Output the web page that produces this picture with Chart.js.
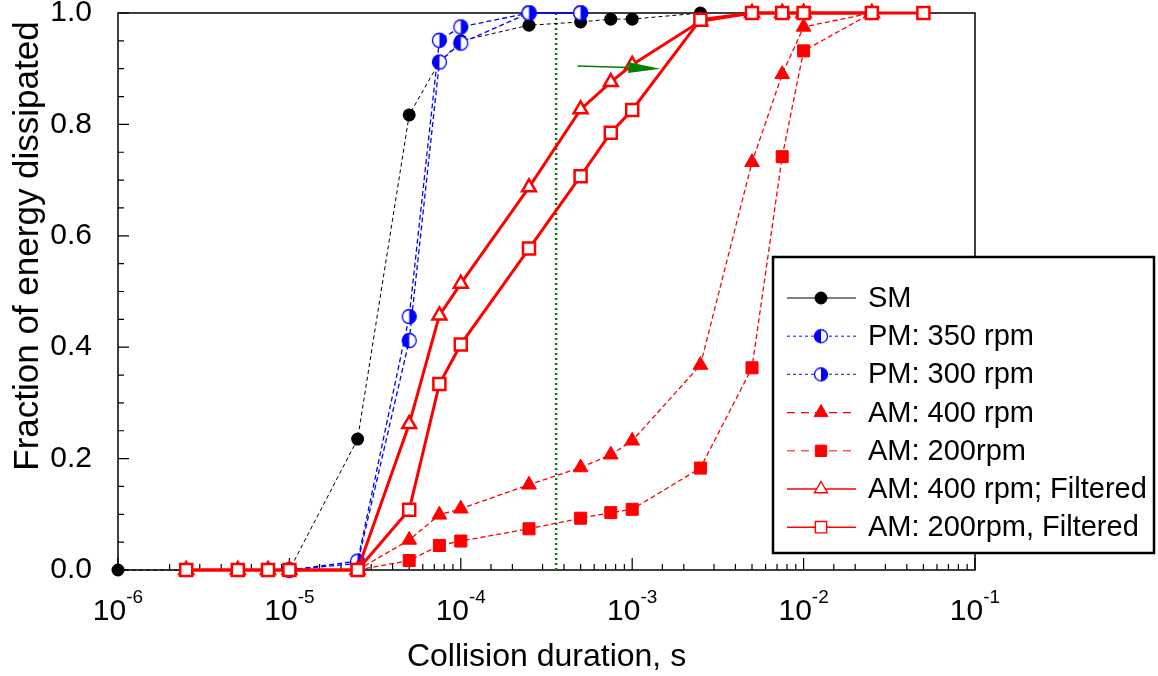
<!DOCTYPE html>
<html>
<head>
<meta charset="utf-8">
<title>Fraction of energy dissipated vs collision duration</title>
<script src="https://cdn.jsdelivr.net/npm/chart.js@4.4.1/dist/chart.umd.min.js"></script>
<style>
  html, body { margin: 0; padding: 0; background: #fff; }
  #wrap { width: 1158px; height: 676px; }
</style>
</head>
<body>
<div id="wrap"><canvas id="chart" width="1158" height="676"></canvas></div>
<script>
const FONT = '"Liberation Sans", Arial, sans-serif';
const BLUE = "#0000ff";
const RED = "#ff0000";
const GREEN = "#008000";

// collision duration (s) / fraction of energy dissipated
const T_SM = [1e-6, 1e-5, 2.5e-5, 5e-5, 7.5e-5, 1e-4, 2.5e-4, 5e-4, 7.5e-4, 1e-3, 2.5e-3];
const E_SM = [0, 0, 0.235, 0.817, 0.912, 0.95, 0.978, 0.984, 0.989, 0.989, 1.0];

const T_PM = [1e-5, 2.5e-5, 5e-5, 7.5e-5, 1e-4, 2.5e-4, 5e-4];
const E_PM350 = [0, 0.012, 0.412, 0.912, 0.946, 1.0, 1.0];
const E_PM300 = [0, 0.016, 0.455, 0.951, 0.975, 1.0, 1.0];

const T_AM = [2.5e-5, 5e-5, 7.5e-5, 1e-4, 2.5e-4, 5e-4, 7.5e-4, 1e-3, 2.5e-3, 5e-3, 7.5e-3, 1e-2, 2.5e-2];
const E_AM400 = [0, 0.054, 0.099, 0.11, 0.153, 0.184, 0.207, 0.232, 0.368, 0.732, 0.89, 0.975, 1.0];
const E_AM200 = [0, 0.017, 0.044, 0.052, 0.074, 0.093, 0.103, 0.109, 0.183, 0.363, 0.742, 0.932, 1.0];

const T_F400 = [2.5e-6, 5e-6, 7.5e-6, 1e-5, 2.5e-5, 5e-5, 7.5e-5, 1e-4, 2.5e-4, 5e-4, 7.5e-4, 1e-3, 2.5e-3, 5e-3, 7.5e-3, 1e-2, 2.5e-2];
const E_F400 = [0, 0, 0, 0, 0, 0.262, 0.457, 0.514, 0.687, 0.827, 0.876, 0.907, 0.985, 1, 1, 1, 1];
const T_F200 = [2.5e-6, 5e-6, 7.5e-6, 1e-5, 2.5e-5, 5e-5, 7.5e-5, 1e-4, 2.5e-4, 5e-4, 7.5e-4, 1e-3, 2.5e-3, 5e-3, 7.5e-3, 1e-2, 2.5e-2, 5e-2];
const E_F200 = [0, 0, 0, 0, 0, 0.108, 0.334, 0.405, 0.577, 0.707, 0.785, 0.826, 0.988, 1, 1, 1, 1, 1];

const SERIES_NAMES = [
  "SM",
  "PM: 350 rpm",
  "PM: 300 rpm",
  "AM: 400 rpm",
  "AM: 200rpm",
  "AM: 400 rpm; Filtered",
  "AM: 200rpm, Filtered",
];

// vertical guide and arrow (data units)
const GUIDE_T = 3.6e-4;
const ARROW_T = [4.8e-4, 1.46e-3];
const ARROW_E = [0.905, 0.9];

// axes
const X_MIN = 1e-6;
const X_MAX = 1e-1;
const Y_LABELS = [0, 0.2, 0.4, 0.6, 0.8, 1.0];
const Y_MINOR_STEP = 0.05;

function pts(ts, es) {
  return ts.map((t, i) => ({ x: t, y: es[i] }));
}

function halfDisc(leftFilled, r) {
  const s = Math.ceil(2 * r + 3);
  const c = document.createElement("canvas");
  c.width = c.height = s;
  const g = c.getContext("2d");
  const m = s / 2;
  g.fillStyle = "#fff";
  g.beginPath();
  g.arc(m, m, r, 0, Math.PI * 2);
  g.fill();
  g.fillStyle = BLUE;
  g.beginPath();
  if (leftFilled) g.arc(m, m, r, Math.PI / 2, Math.PI * 1.5);
  else g.arc(m, m, r, -Math.PI / 2, Math.PI / 2);
  g.closePath();
  g.fill();
  g.strokeStyle = BLUE;
  g.lineWidth = 1.3;
  g.beginPath();
  g.arc(m, m, r, 0, Math.PI * 2);
  g.stroke();
  return c;
}

const PM350_MARK = halfDisc(true, 7);
const PM300_MARK = halfDisc(false, 7);
const PM350_KEY = halfDisc(true, 6.5);
const PM300_KEY = halfDisc(false, 6.5);

const isDecade = (v) => Math.abs(Math.log10(v) - Math.round(Math.log10(v))) < 1e-6;
const isMajorY = (v) => Y_LABELS.some((l) => Math.abs(l - v) < 1e-6);

// legend sample styles
const KEY_STYLES = [
  { color: "#000", dash: [], width: 1.2, style: "circle", radius: 6, fill: "#000" },
  { color: "#5a5aff", dash: [3, 3], width: 1.6, style: PM350_KEY, radius: 7 },
  { color: "#3c3cff", dash: [3, 3], width: 1.2, style: PM300_KEY, radius: 7 },
  { color: RED, dash: [8, 6], width: 1.4, style: "triangle", radius: 8, fill: RED },
  { color: "#ff5a5a", dash: [8, 6], width: 1.6, style: "rect", radius: 8, fill: RED },
  { color: RED, dash: [], width: 1.4, style: "triangle", radius: 7.5, fill: "#fff", border: 1.4 },
  { color: RED, dash: [], width: 1.4, style: "rect", radius: 8, fill: "#fff", border: 1.4 },
];

const frameAndTicks = {
  id: "frameAndTicks",
  beforeDatasetsDraw(chart) {
    const { ctx, chartArea: a, scales: { x, y } } = chart;
    ctx.save();
    ctx.strokeStyle = "#000";
    ctx.lineWidth = 1.5;
    ctx.strokeRect(a.left, a.top, a.right - a.left, a.bottom - a.top);
    ctx.lineWidth = 1.2;
    ctx.beginPath();
    x.ticks.forEach((t) => {
      const px = x.getPixelForValue(t.value);
      const len = isDecade(t.value) ? 12 : 6;
      ctx.moveTo(px, a.bottom);
      ctx.lineTo(px, a.bottom - len);
    });
    y.ticks.forEach((t) => {
      const py = y.getPixelForValue(t.value);
      const len = isMajorY(t.value) ? 11 : 6;
      ctx.moveTo(a.left, py);
      ctx.lineTo(a.left + len, py);
    });
    ctx.stroke();

    // decade labels 10^n
    ctx.fillStyle = "#000";
    ctx.textAlign = "left";
    ctx.textBaseline = "alphabetic";
    x.ticks.forEach((t) => {
      if (!isDecade(t.value)) return;
      const px = x.getPixelForValue(t.value);
      const exp = String(Math.round(Math.log10(t.value)));
      ctx.font = "30px " + FONT;
      const w1 = ctx.measureText("10").width;
      ctx.font = "19px " + FONT;
      const w2 = ctx.measureText(exp).width;
      const left = px - (w1 + w2) / 2;
      ctx.font = "30px " + FONT;
      ctx.fillText("10", left, a.bottom + 50);
      ctx.font = "19px " + FONT;
      ctx.fillText(exp, left + w1, a.bottom + 33);
    });

    // y title
    ctx.font = "35px " + FONT;
    ctx.textAlign = "center";
    ctx.translate(38, 246);
    ctx.rotate(-Math.PI / 2);
    ctx.fillText("Fraction of energy dissipated", 0, 0);
    ctx.restore();
  },
};

const arrow = {
  id: "arrow",
  afterDatasetsDraw(chart) {
    const { ctx, scales: { x, y } } = chart;
    const x0 = x.getPixelForValue(ARROW_T[0]);
    const y0 = y.getPixelForValue(ARROW_E[0]);
    const x1 = x.getPixelForValue(ARROW_T[1]);
    const y1 = y.getPixelForValue(ARROW_E[1]);
    const ang = Math.atan2(y1 - y0, x1 - x0);
    const head = 32;
    const half = 5.5;
    const bx = x1 - head * Math.cos(ang);
    const by = y1 - head * Math.sin(ang);
    ctx.save();
    ctx.strokeStyle = GREEN;
    ctx.fillStyle = GREEN;
    ctx.lineWidth = 1.5;
    ctx.beginPath();
    ctx.moveTo(x0, y0);
    ctx.lineTo(bx, by);
    ctx.stroke();
    ctx.beginPath();
    ctx.moveTo(x1, y1);
    ctx.lineTo(bx - half * Math.sin(ang), by + half * Math.cos(ang));
    ctx.lineTo(bx + half * Math.sin(ang), by - half * Math.cos(ang));
    ctx.closePath();
    ctx.fill();
    ctx.restore();
  },
};

const legendBox = {
  id: "legendBox",
  afterDraw(chart) {
    const ctx = chart.ctx;
    const bx = 773, by = 257, bw = 381, bh = 296;
    ctx.save();
    ctx.fillStyle = "#fff";
    ctx.fillRect(bx, by, bw, bh);
    ctx.strokeStyle = "#000";
    ctx.lineWidth = 2.5;
    ctx.strokeRect(bx, by, bw, bh);
    SERIES_NAMES.forEach((name, i) => {
      const s = KEY_STYLES[i];
      const yy = 298 + i * 38.2;
      ctx.setLineDash(s.dash);
      ctx.strokeStyle = s.color;
      ctx.lineWidth = s.width;
      ctx.beginPath();
      ctx.moveTo(787, yy);
      ctx.lineTo(856, yy);
      ctx.stroke();
      ctx.setLineDash([]);
      ctx.fillStyle = s.fill || "#fff";
      ctx.strokeStyle = s.fill === "#fff" ? RED : s.fill || BLUE;
      ctx.lineWidth = s.border || 1;
      Chart.helpers.drawPoint(ctx, { pointStyle: s.style, radius: s.radius, rotation: 0, borderWidth: s.border || 1 }, 821, yy);
      ctx.fillStyle = "#000";
      ctx.font = "29px " + FONT;
      ctx.textAlign = "left";
      ctx.textBaseline = "middle";
      ctx.fillText(name, 868, yy + 1);
    });
    ctx.restore();
  },
};

const common = { clip: false, tension: 0, fill: false };

new Chart(document.getElementById("chart"), {
  type: "line",
  data: {
    datasets: [
      {
        ...common, label: "guide", order: 9,
        data: [{ x: GUIDE_T, y: 0 }, { x: GUIDE_T, y: 1 }],
        borderColor: GREEN, borderWidth: 2.5, borderDash: [2, 3], pointRadius: 0,
      },
      {
        ...common, label: SERIES_NAMES[0], order: 8, data: pts(T_SM, E_SM),
        borderColor: "#000", borderWidth: 1, borderDash: [4, 3],
        pointStyle: "circle", pointRadius: 6.5, pointBackgroundColor: "#000", pointBorderColor: "#000", pointBorderWidth: 0,
      },
      {
        ...common, label: SERIES_NAMES[1], order: 7, data: pts(T_PM, E_PM350),
        borderColor: BLUE, borderWidth: 1.3, borderDash: [5, 3],
        pointStyle: PM350_MARK, pointRadius: 7,
      },
      {
        ...common, label: SERIES_NAMES[2], order: 6, data: pts(T_PM, E_PM300),
        borderColor: BLUE, borderWidth: 1.3, borderDash: [5, 3],
        pointStyle: PM300_MARK, pointRadius: 7,
      },
      {
        ...common, label: SERIES_NAMES[3], order: 5, data: pts(T_AM, E_AM400),
        borderColor: RED, borderWidth: 1.3, borderDash: [5, 3],
        pointStyle: "triangle", pointRadius: 8.5, pointBackgroundColor: RED, pointBorderColor: RED, pointBorderWidth: 1,
      },
      {
        ...common, label: SERIES_NAMES[4], order: 4, data: pts(T_AM, E_AM200),
        borderColor: RED, borderWidth: 1.3, borderDash: [5, 3],
        pointStyle: "rect", pointRadius: 8.5, pointBackgroundColor: RED, pointBorderColor: RED, pointBorderWidth: 1,
      },
      {
        ...common, label: SERIES_NAMES[5], order: 3, data: pts(T_F400, E_F400),
        borderColor: RED, borderWidth: 3,
        pointStyle: "triangle", pointRadius: 8, pointBackgroundColor: "#fff", pointBorderColor: RED, pointBorderWidth: 2.5,
      },
      {
        ...common, label: SERIES_NAMES[6], order: 2, data: pts(T_F200, E_F200),
        borderColor: RED, borderWidth: 3,
        pointStyle: "rect", pointRadius: 8.5, pointBackgroundColor: "#fff", pointBorderColor: RED, pointBorderWidth: 2.5,
      },
    ],
  },
  options: {
    responsive: false,
    devicePixelRatio: 1,
    animation: false,
    events: [],
    layout: { padding: { top: 13, right: 183, bottom: 0, left: 0 } },
    font: { family: FONT },
    plugins: { legend: { display: false }, tooltip: { enabled: false } },
    scales: {
      x: {
        type: "logarithmic",
        min: X_MIN,
        max: X_MAX,
        afterFit: (s) => {
          s.height = 106;
          s.paddingLeft = 0;
          s.paddingRight = 0;
        },
        grid: { display: false, drawTicks: false },
        border: { display: false },
        ticks: { display: false, autoSkip: false },
        title: {
          display: true,
          text: "Collision duration, s",
          color: "#000",
          font: { family: FONT, size: 32 },
          padding: { top: 0, bottom: 0 },
        },
      },
      y: {
        type: "linear",
        min: 0,
        max: 1,
        afterFit: (s) => {
          s.width = 118;
          s.paddingTop = 0;
          s.paddingBottom = 0;
        },
        grid: { display: false, drawTicks: false },
        border: { display: false },
        ticks: {
          stepSize: Y_MINOR_STEP,
          autoSkip: false,
          padding: 26,
          color: "#000",
          font: { family: FONT, size: 30 },
          callback: (v) => (isMajorY(v) ? v.toFixed(1) : ""),
        },
      },
    },
  },
  plugins: [frameAndTicks, arrow, legendBox],
});
</script>
</body>
</html>
